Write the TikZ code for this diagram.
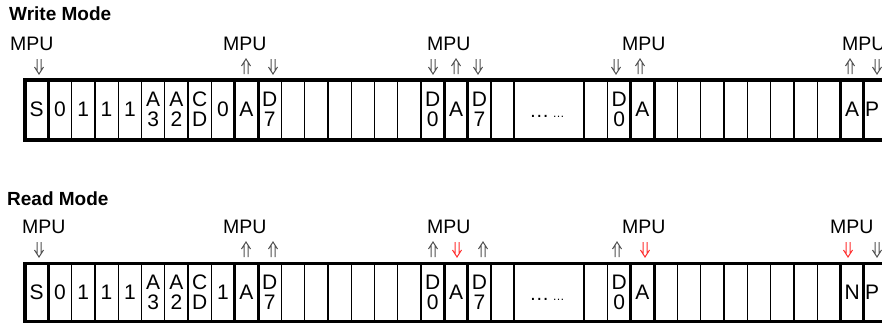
\documentclass[tikz,border=0pt]{standalone}
\usepackage{fontspec}
\setmainfont{Liberation Sans}
\definecolor{arrgray}{RGB}{80,80,80}
\definecolor{arrred}{RGB}{255,45,45}
\begin{document}
\begin{tikzpicture}[x=1pt,y=-1pt,
  thinsep/.style={line width=1.3pt},
  midsep/.style={line width=2.2pt},
  thicksep/.style={line width=3pt},
  frame/.style={line width=3.5pt},
  celltxt/.style={font=\fontsize{21}{20}\selectfont, align=center, inner sep=0pt},
  mpu/.style={font=\fontsize{19.5}{19.5}\selectfont, anchor=base west, inner sep=0pt},
  title/.style={font=\fontsize{19}{19}\selectfont\bfseries, anchor=base west, inner sep=0pt},
  ga/.style={draw=arrgray, line width=1pt},
  ra/.style={draw=arrred, line width=1pt},
  dnarr/.pic={\draw[pic actions] (-2,0)--(-2,11.9) (2,0)--(2,11.9) (-4.5,8)--(0,15)--(4.5,8);},
  uparr/.pic={\draw[pic actions] (-4.5,7)--(0,0)--(4.5,7) (-2,3.1)--(-2,15) (2,3.1)--(2,15);}
]
\useasboundingbox (0,0) rectangle (882,324);
\def\cw{23.3}
% ---------- rows ----------
\foreach \row/\T/\B in {w/80/140, r/263.5/321.5}{
  \foreach \k in {2,4,5,6,7,8,11,12,13,14,15,16,17,20,25,28,29,30,31,32,33,34}
    \draw[thinsep] ({25+\k*\cw},\T) -- ({25+\k*\cw},\B);
  \foreach \k in {3,21,24}
    \draw[midsep] ({25+\k*\cw},\T) -- ({25+\k*\cw},\B);
  \foreach \k in {1,9,10,18,19,26,27,35,36}
    \draw[thicksep] ({25+\k*\cw},\T) -- ({25+\k*\cw},\B);
  \draw[frame] (890,\T) -- (25,\T) -- (25,\B) -- (890,\B);
}
% ---------- cell texts ----------
\foreach \k/\t in {0/S,1/0,2/1,3/1,4/1,5/{A\\3},6/{A\\2},7/{C\\D},8/0,9/A,10/{D\\7},17/{D\\0},18/A,19/{D\\7},25/{D\\0},26/A,35/A}
  \node[celltxt] (w\k) at ({25+(\k+0.5)*\cw},109) {\t};
\node[celltxt] (w36) at (872,109) {P};
\foreach \k/\t in {0/S,1/0,2/1,3/1,4/1,5/{A\\3},6/{A\\2},7/{C\\D},8/1,9/A,10/{D\\7},17/{D\\0},18/A,19/{D\\7},25/{D\\0},26/A,35/N}
  \node[celltxt] (r\k) at ({25+(\k+0.5)*\cw},292) {\t};
\node[celltxt] (r36) at (872,292) {P};
\node[anchor=base, inner sep=0pt, font=\fontsize{20}{20}\selectfont] (wdots) at (547,117) {…\,{\fontsize{12}{12}\selectfont …}};
\node[anchor=base, inner sep=0pt, font=\fontsize{20}{20}\selectfont] (rdots) at (547,300) {…\,{\fontsize{12}{12}\selectfont …}};
% ---------- titles ----------
\node[title] (wtitle) at (9,20) {Write Mode};
\node[title] (rtitle) at (7,205) {Read Mode};
% ---------- MPU labels ----------
\foreach \i/\x in {1/10,2/223,3/427,4/622,5/842}
  \node[mpu] (wm\i) at (\x,50) {MPU};
\foreach \i/\x in {1/22,2/223,3/427,4/622,5/830}
  \node[mpu] (rm\i) at (\x,233) {MPU};
% ---------- arrows, write ----------
\pic[ga] at (39,59) {dnarr};
\pic[ga] at (246,59) {uparr};
\pic[ga] at (273,59) {dnarr};
\pic[ga] at (433,59) {dnarr};
\pic[ga] at (456,59) {uparr};
\pic[ga] at (478,59) {dnarr};
\pic[ga] at (616,59) {dnarr};
\pic[ga] at (640,59) {uparr};
\pic[ga] at (850,59) {uparr};
\pic[ga] at (877,59) {dnarr};
% ---------- arrows, read ----------
\pic[ga] at (39,242) {dnarr};
\pic[ga] at (246,242) {uparr};
\pic[ga] at (273,242) {uparr};
\pic[ga] at (433,242) {uparr};
\pic[ra] at (457,242) {dnarr};
\pic[ga] at (483,242) {uparr};
\pic[ga] at (617,242) {uparr};
\pic[ra] at (645,242) {dnarr};
\pic[ra] at (848,242) {dnarr};
\pic[ga] at (877,242) {dnarr};
\end{tikzpicture}
\end{document}
